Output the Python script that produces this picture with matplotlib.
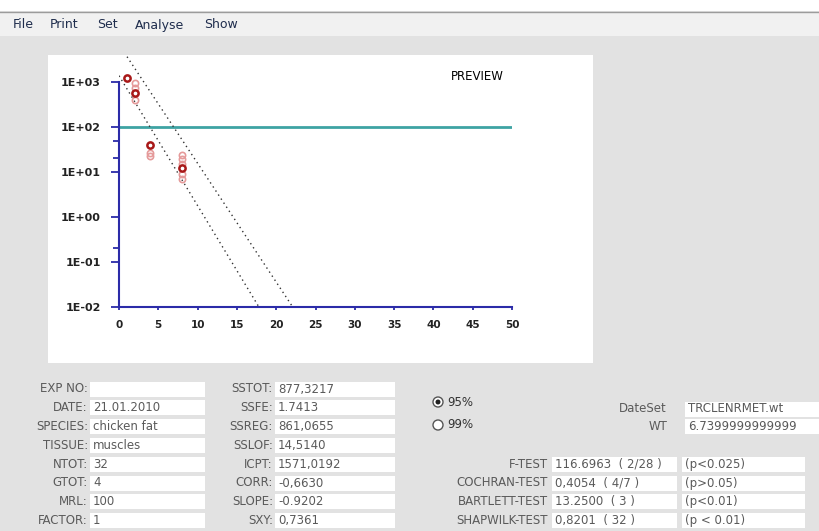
import numpy as np
import matplotlib.pyplot as plt
from matplotlib.patches import Rectangle, Circle

# residue depletion data (time in days, concentration)
t_main = [1, 2, 4, 8]
c_main = [1230, 570, 40, 12]
t_rep = [2, 2, 2, 4, 4, 8, 8, 8, 8, 8]
c_rep = [950, 740, 400, 27, 23, 24, 19, 15, 9, 7]

# tolerance limits of the regression
lower_x = [0, 17.8]
lower_y = [1380, 0.01]
upper_x = [0, 22.1]
upper_y = [6800, 0.01]
mrl = 100

x_ticks = [0, 5, 10, 15, 20, 25, 30, 35, 40, 45, 50]
y_ticks = [1e-2, 1e-1, 1e0, 1e1, 1e2, 1e3]
y_labels = ["1E-02", "1E-01", "1E+00", "1E+01", "1E+02", "1E+03"]
y_minor = [50, 20, 0.2]

menu_items = ["File", "Print", "Set", "Analyse", "Show"]
menu_x = [13, 50, 97, 135, 204]

info_labels = ["EXP NO:", "DATE:", "SPECIES:", "TISSUE:", "NTOT:", "GTOT:", "MRL:", "FACTOR:"]
info_values = ["", "21.01.2010", "chicken fat", "muscles", "32", "4", "100", "1"]
stat_labels = ["SSTOT:", "SSFE:", "SSREG:", "SSLOF:", "ICPT:", "CORR:", "SLOPE:", "SXY:"]
stat_values = ["877,3217", "1.7413", "861,0655", "14,5140", "1571,0192", "-0,6630", "-0.9202", "0,7361"]
test_labels = ["F-TEST", "COCHRAN-TEST", "BARTLETT-TEST", "SHAPWILK-TEST"]
test_values = ["116.6963  ( 2/28 )", "0,4054  ( 4/7 )", "13.2500  ( 3 )", "0,8201  ( 32 )"]
test_p = ["(p<0.025)", "(p>0.05)", "(p<0.01)", "(p < 0.01)"]

W, H = 820, 531
BG = "#e2e2e2"
TXT = "#5a5a5a"
AXC = "#2b2ba8"

fig = plt.figure(figsize=(W / 100, H / 100), dpi=100, facecolor=BG)

# window chrome, drawn in pixel coordinates
ui = fig.add_axes([0, 0, 1, 1])
ui.set_xlim(0, W)
ui.set_ylim(H, 0)
ui.axis("off")

ui.add_patch(Rectangle((0, 0), W, 11, color="white", lw=0))
ui.add_patch(Rectangle((0, 12), W, 24, color="#f1f1f1", lw=0))
ui.plot([0, W], [11.5, 11.5], color="#9c9c9c", lw=1)
for name, x in zip(menu_items, menu_x):
    ui.text(x, 25, name, fontsize=9, color="#1f2d4d", va="center", ha="left",
            fontweight="medium")

ui.add_patch(Rectangle((48, 55), 545, 308, color="white", lw=0))
ui.text(477, 77, "PREVIEW", fontsize=8.5, color="black", ha="center", va="center")


def field(x0, x1, y, text, color=TXT):
    ui.add_patch(Rectangle((x0, y - 7.5), x1 - x0, 15, color="white", lw=0))
    ui.text(x0 + 3, y, text, fontsize=8.5, color=color, va="center", ha="left")


rows = [389 + 18.8 * i for i in range(8)]
for y, lab, val in zip(rows, info_labels, info_values):
    ui.text(88, y, lab, fontsize=8.5, color=TXT, ha="right", va="center")
    field(90, 205, y, val)
for y, lab, val in zip(rows, stat_labels, stat_values):
    ui.text(273, y, lab, fontsize=8.5, color=TXT, ha="right", va="center")
    field(275, 395, y, val)

# confidence level radio buttons
for y, lab, on in [(402, "95%", True), (425, "99%", False)]:
    ui.add_patch(Circle((438, y), 5, facecolor="white", edgecolor="#555555", lw=1))
    if on:
        ui.add_patch(Circle((438, y), 2.5, color="#222222", lw=0))
    ui.text(447, y, lab, fontsize=8.5, color="#333333", ha="left", va="center")

ui.text(667, 409, "DateSet", fontsize=8.5, color=TXT, ha="right", va="center")
field(685, 830, 409, "TRCLENRMET.wt")
ui.text(667, 426, "WT", fontsize=8.5, color=TXT, ha="right", va="center")
field(685, 830, 426, "6.7399999999999")

for y, lab, val, p in zip(rows[4:], test_labels, test_values, test_p):
    ui.text(548, y, lab, fontsize=8.5, color=TXT, ha="right", va="center")
    field(552, 677, y, val)
    field(682, 805, y, p)

# depletion plot
x0, x1, yb, yt = 119, 512, 307, 55
ax = fig.add_axes([x0 / W, 1 - yb / H, (x1 - x0) / W, (yb - yt) / H])
ax.set_facecolor("none")
ax.set_yscale("log")
ax.set_xlim(0, 50)
ax.set_ylim(1e-2, 10 ** 3.6)

ax.plot([0, 50], [mrl, mrl], color="#3ea3a3", lw=2, zorder=2)
ax.plot(lower_x, lower_y, color="#333333", lw=1, ls=(0, (1, 2.5)), zorder=3)
ax.plot(upper_x, upper_y, color="#333333", lw=1, ls=(0, (1, 2.5)), zorder=3)
ax.plot(t_rep, c_rep, ls="none", marker="o", ms=4.5, mfc="none", mec="#e59a9a", mew=1.2, zorder=4)
ax.plot(t_main, c_main, ls="none", marker="o", ms=4.5, mfc="white", mec="#a81818", mew=1.8, zorder=5)

for s in ["top", "right"]:
    ax.spines[s].set_visible(False)
for s in ["left", "bottom"]:
    ax.spines[s].set_color(AXC)
    ax.spines[s].set_linewidth(1.5)
ax.spines["left"].set_bounds(1e-2, 1e3)

ax.set_yticks(y_ticks)
ax.set_yticklabels(y_labels)
ax.set_yticks(y_minor, minor=True)
ax.yaxis.set_minor_formatter(plt.NullFormatter())
ax.set_xticks(x_ticks)
ax.set_xticklabels([str(v) for v in x_ticks])
ax.tick_params(axis="y", which="major", length=6, width=1.3, color=AXC, pad=7,
               labelsize=8, labelcolor="#222222")
ax.tick_params(axis="y", which="minor", length=4, width=1.3, color=AXC)
ax.tick_params(axis="x", length=2.5, width=1.3, color=AXC, pad=7,
               labelsize=7.5, labelcolor="#222222")
for lab in ax.get_xticklabels() + ax.get_yticklabels():
    lab.set_fontweight("bold")

fig.savefig("out.png", dpi=100, facecolor=BG)
